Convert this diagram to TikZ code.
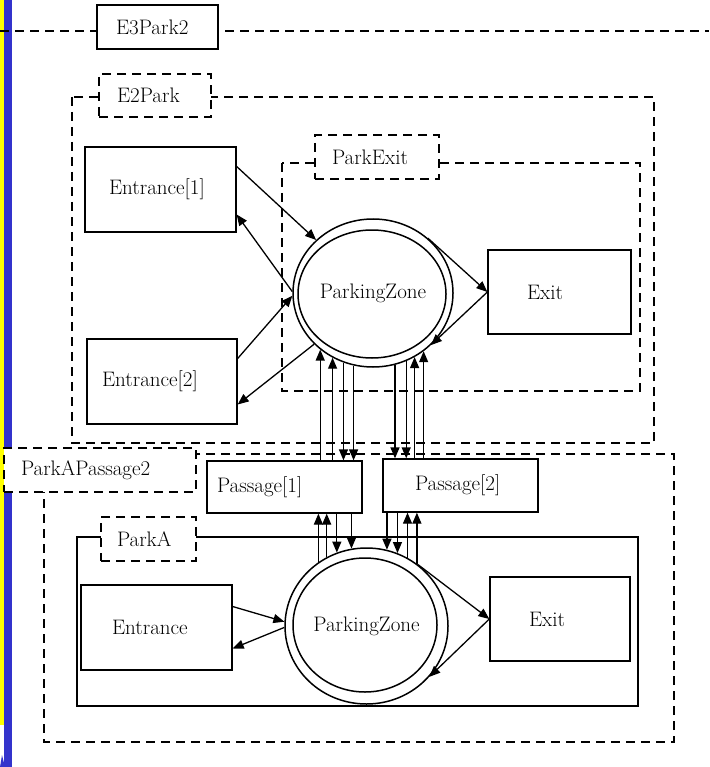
\documentclass[tikz,border=0pt]{standalone}
\usepackage{fontspec}
\usetikzlibrary{shapes.geometric,arrows.meta,positioning}
\definecolor{baryellow}{RGB}{255,255,0}
\definecolor{barblue}{RGB}{51,51,204}
\newcommand{\diagfont}{\fontsize{21}{24}\selectfont}
\tikzstyle{block} = [rectangle,draw,line width=1.3pt,fill=white,align=left,
  font=\diagfont]
\tikzstyle{tag} = [rectangle,draw,line width=1.8pt,dash pattern=on 9pt off 6pt,
  fill=white,align=left,font=\diagfont]
\tikzstyle{frame} = [draw,line width=1.8pt,dash pattern=on 9pt off 6pt]
\tikzstyle{zone} = [ellipse,draw,line width=1.5pt,inner sep=0pt,font=\diagfont]
\tikzstyle{line} = [draw,line width=1.3pt,-{Triangle[length=11pt,width=9pt]}]

\begin{document}
\begin{tikzpicture}[x=1pt,y=-1pt]
\useasboundingbox (0,0) rectangle (709,767);

\fill[barblue] (4,0) rectangle (12,767);
\fill[baryellow] (0,0) rectangle (4,725);
\fill[barblue] (0,767) -- (5,767) -- (2,755) -- cycle;

\draw[frame] (0,31) -- (709,31);
\draw[frame] (72,97) rectangle (654,443);
\draw[frame] (282,163) rectangle (640,391);
\draw[frame] (44,454) rectangle (674,742);
\draw[line width=1.3pt] (77,537) rectangle (638,706);

\node [block, inner xsep=19pt, text width=83pt, minimum height=44pt] (e3park) at (157.5,27) {E3Park2};
\node [tag, inner xsep=18pt, text width=76pt, minimum height=43pt] (e2park) at (155,95.5) {E2Park};
\node [tag, inner xsep=17pt, text width=90pt, minimum height=44pt] (parkexit) at (377,157) {ParkExit};
\node [tag, inner xsep=17pt, text width=158pt, minimum height=44pt] (parkapassage) at (100,470) {ParkAPassage2};
\node [tag, inner xsep=16pt, text width=63pt, minimum height=44pt] (parka) at (148.5,539) {ParkA};

\node [block, inner xsep=24pt, text width=103pt, minimum height=85pt] (entrance_one) at (160.5,189.5) {Entrance[1]};
\node [block, inner xsep=15pt, text width=120pt, minimum height=85pt] (entrance_two) at (162,381.5) {Entrance[2]};
\node [block, inner xsep=39pt, text width=65pt, minimum height=84pt] (exit_e) at (559.5,292) {Exit};
\node [zone, minimum width=160pt, minimum height=148pt] (zone_e) at (373,293) {ParkingZone};
\node [zone, minimum width=148pt, minimum height=128pt] (zone_e_in) at (372,294) {};

\node [block, inner xsep=10pt, text width=135pt, minimum height=52pt] (passage_one) at (284.5,487) {Passage[1]};
\node [block, inner xsep=32pt, text width=91pt, minimum height=53pt] (passage_two) at (460.5,485.5) {Passage[2]};

\node [block, inner xsep=31pt, text width=89pt, minimum height=85pt] (entrance_a) at (156.5,627.5) {Entrance};
\node [block, inner xsep=39pt, text width=62pt, minimum height=84pt] (exit_a) at (560,619) {Exit};
\node [zone, minimum width=163pt, minimum height=156pt] (zone_a) at (366.5,626) {ParkingZone};
\node [zone, minimum width=144pt, minimum height=134pt] (zone_a_in) at (365,625) {};

\path [line] ([yshift=23pt]entrance_one.east) -- (zone_e.137);
\path [line] (zone_e.179) -- ([yshift=-25pt]entrance_one.east);
\path [line] ([yshift=23pt]entrance_two.east) -- (zone_e.182);
\path [line] (zone_e.221) -- ([yshift=-23pt]entrance_two.east);
\path [line] (zone_e.45) -- (exit_e.west);
\path [line] (exit_e.west) -- (zone_e.318);

\path [line] (zone_e.227 |- passage_one.north) -- (zone_e.227);
\path [line] (zone_e.238 |- passage_one.north) -- (zone_e.238);
\path [line] (zone_e.247) -- (zone_e.247 |- passage_one.north);
\path [line] (zone_e.255) -- (zone_e.255 |- passage_one.north);
\path [line] (zone_e.287) -- (zone_e.287 |- passage_two.north);
\path [line] (zone_e.296) -- (zone_e.296 |- passage_two.north);
\path [line] (zone_e.303 |- passage_two.north) -- (zone_e.303);
\path [line] (zone_e.311 |- passage_two.north) -- (zone_e.311);

\path [line] (zone_a.127) -- (zone_a.127 |- passage_one.south);
\path [line] (zone_a.120) -- (zone_a.120 |- passage_one.south);
\path [line] (zone_a.112 |- passage_one.south) -- (zone_a.112);
\path [line] (zone_a.101 |- passage_one.south) -- (zone_a.101);
\path [line] (zone_a.75 |- passage_two.south) -- (zone_a.75);
\path [line] (zone_a.67 |- passage_two.south) -- (zone_a.67);
\path [line] (zone_a.59) -- (zone_a.59 |- passage_two.south);
\path [line] (zone_a.51) -- (zone_a.51 |- passage_two.south);

\path [line] ([yshift=21pt]entrance_a.east) -- (zone_a.177);
\path [line] (zone_a.181) -- ([yshift=-21pt]entrance_a.east);
\path [line] (zone_a.50) -- (exit_a.west);
\path [line] (exit_a.west) -- (zone_a.321);

\end{tikzpicture}
\end{document}
